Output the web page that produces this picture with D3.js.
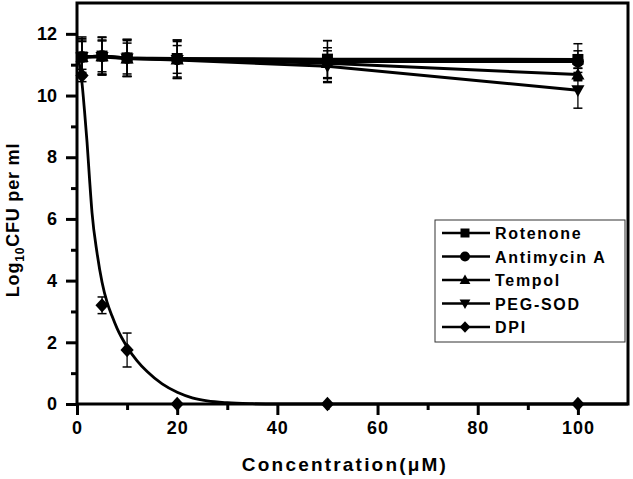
<!DOCTYPE html>
<html><head><meta charset="utf-8">
<script src="https://cdn.jsdelivr.net/npm/d3@7"></script>
<style>body{margin:0;background:#fff}svg{display:block}text{font-family:"Liberation Sans",Arial,sans-serif;font-weight:bold;fill:#000}</style>
</head><body><svg id="c" width="633" height="479"></svg>
<script>
const concentrations = [1, 5, 10, 20, 50, 100];
const seriesNames = ["Rotenone", "Antimycin A", "Tempol", "PEG-SOD", "DPI"];
const rotenone   = [11.25, 11.28, 11.22, 11.20, 11.18, 11.17];
const antimycin  = [11.25, 11.28, 11.22, 11.18, 11.10, 11.10];
const tempol     = [11.25, 11.27, 11.20, 11.17, 11.05, 10.68];
const pegsod     = [11.25, 11.25, 11.20, 11.15, 10.95, 10.17];
const dpi        = [10.65, 3.20, 1.75, 0, 0, 0];
const errRotenone  = [0.60, 0.60, 0.60, 0.60, 0.60, 0.28];
const errAntimycin = [0.65, 0.62, 0.60, 0.62, 0.68, 0.58];
const errTempol    = [0.50, 0.50, 0.50, 0.45, 0.50, 0.20];
const errPegsod    = [0.55, 0.55, 0.58, 0.60, 0.50, 0.58];
const errDpi       = [0.20, 0.27, 0.55, 0, 0, 0];
// DPI decay fit curve
const dpiFitX = [0, 0.5, 1, 1.5, 2, 2.5, 3, 4, 5, 6, 7, 8, 10, 12, 14, 17, 20, 23, 26, 30, 35, 40, 50, 60, 70, 80, 90, 100, 110];
const dpiFitY = [11.4, 11.0, 10.4, 9.5, 8.5, 7.3, 6.2, 4.9, 3.95, 3.3, 2.85, 2.45, 1.85, 1.4, 1.05, 0.65, 0.38, 0.2, 0.1, 0.04, 0.01, 0, 0, 0, 0, 0, 0, 0, 0];
const xTicks = [0, 20, 40, 60, 80, 100];
const yTicks = [0, 2, 4, 6, 8, 10, 12];
const markerTypes = ["square", "circle", "triangle", "triangleDown", "diamond"];

const values = [rotenone, antimycin, tempol, pegsod, dpi];
const errors = [errRotenone, errAntimycin, errTempol, errPegsod, errDpi];

const svg = d3.select("#c");
const L = 77, R = 628, T = 3, B = 404;
const x = d3.scaleLinear().domain([0, 110]).range([L, R]);
const y = d3.scaleLinear().domain([0, 13]).range([B, T]);

function markerPath(type, size) {
  const s = size;
  if (type === "square") return d3.symbol(d3.symbolSquare, s*s)();
  if (type === "circle") return d3.symbol(d3.symbolCircle, Math.PI*(s/2+0.5)*(s/2+0.5))();
  if (type === "triangle") return `M0,${-s*0.6}L${s*0.6},${s*0.45}L${-s*0.6},${s*0.45}Z`;
  if (type === "triangleDown") return `M0,${s*0.6}L${s*0.6},${-s*0.45}L${-s*0.6},${-s*0.45}Z`;
  if (type === "diamond") return `M0,${-s*0.65}L${s*0.6},0L0,${s*0.65}L${-s*0.6},0Z`;
}

// axes
const gx = svg.append("g").attr("transform", `translate(0,${B})`)
  .call(d3.axisBottom(x).tickValues(xTicks).tickSize(11).tickPadding(6).tickFormat(d3.format("d")));
gx.selectAll(".tick text").attr("font-size", 18).attr("letter-spacing", 1);
svg.append("g").attr("transform", `translate(0,${B})`)
  .call(d3.axisBottom(x).tickValues(d3.range(10, 110, 20)).tickSize(6).tickFormat(""));
const gy = svg.append("g").attr("transform", `translate(${L},0)`)
  .call(d3.axisLeft(y).tickValues(yTicks).tickSize(11).tickPadding(9).tickFormat(d3.format("d")));
gy.selectAll(".tick text").attr("font-size", 18);
svg.append("g").attr("transform", `translate(${L},0)`)
  .call(d3.axisLeft(y).tickValues(d3.range(1, 13, 2)).tickSize(6).tickFormat(""));
svg.selectAll(".domain").remove();
svg.selectAll(".tick line").attr("stroke", "#000").attr("stroke-width", 3);
svg.selectAll(".tick text").attr("font-family", "Liberation Sans, Arial, sans-serif").attr("font-weight", "bold").attr("fill", "#000");
svg.append("rect").attr("x", L).attr("y", T).attr("width", R - L).attr("height", B - T)
  .attr("fill", "none").attr("stroke", "#000").attr("stroke-width", 3);

// error bars
values.forEach((vals, si) => {
  const g = svg.append("g");
  vals.forEach((v, i) => {
    const e = errors[si][i];
    if (e <= 0) return;
    const cx = x(concentrations[i]);
    g.append("line").attr("x1", cx).attr("x2", cx).attr("y1", y(v + e)).attr("y2", y(v - e)).attr("stroke", "#000").attr("stroke-width", 1.3);
    [v + e, v - e].forEach(w => g.append("line").attr("x1", cx - 4.5).attr("x2", cx + 4.5).attr("y1", y(w)).attr("y2", y(w)).attr("stroke", "#000").attr("stroke-width", 1.5));
  });
});

// lines for the four flat series
const line = d3.line().x(d => x(d[0])).y(d => y(d[1]));
values.slice(0, 4).forEach(vals => {
  svg.append("path").datum(concentrations.map((c, i) => [c, vals[i]]))
    .attr("d", line).attr("fill", "none").attr("stroke", "#000").attr("stroke-width", 3);
});
// DPI fit curve
svg.append("path").datum(dpiFitX.map((c, i) => [c, dpiFitY[i]]))
  .attr("d", d3.line().x(d => x(d[0])).y(d => y(d[1])).curve(d3.curveMonotoneX))
  .attr("fill", "none").attr("stroke", "#000").attr("stroke-width", 2.8);

// markers
values.forEach((vals, si) => {
  svg.append("g").selectAll("path").data(vals).join("path")
    .attr("transform", (v, i) => `translate(${x(concentrations[i])},${y(v)})`)
    .attr("d", markerPath(markerTypes[si], 11)).attr("fill", "#000");
});

// axis titles
svg.append("text").attr("x", 345).attr("y", 471).attr("text-anchor", "middle")
  .attr("font-size", 19).attr("letter-spacing", 2.2).text("Concentration(μM)");
const yl = svg.append("text").attr("transform", "translate(19,220) rotate(-90)").attr("text-anchor", "middle").attr("font-size", 18).attr("letter-spacing", 0.8);
yl.append("tspan").text("Log");
yl.append("tspan").attr("font-size", 12).attr("dy", 5).text("10");
yl.append("tspan").attr("dy", -5).text("CFU per ml");

// legend
const lg = svg.append("g");
lg.append("rect").attr("x", 435).attr("y", 220).attr("width", 190).attr("height", 122)
  .attr("fill", "#fff").attr("stroke", "#333").attr("stroke-width", 1);
seriesNames.forEach((n, i) => {
  const ly = 233 + i * 23.5;
  lg.append("line").attr("x1", 442).attr("x2", 490).attr("y1", ly).attr("y2", ly).attr("stroke", "#000").attr("stroke-width", 2.5);
  lg.append("path").attr("transform", `translate(465,${ly})`).attr("d", markerPath(markerTypes[i], 9)).attr("fill", "#000");
  lg.append("text").attr("x", 495).attr("y", ly + 6).attr("font-size", 16).attr("letter-spacing", 1.7).text(n);
});
</script></body></html>
